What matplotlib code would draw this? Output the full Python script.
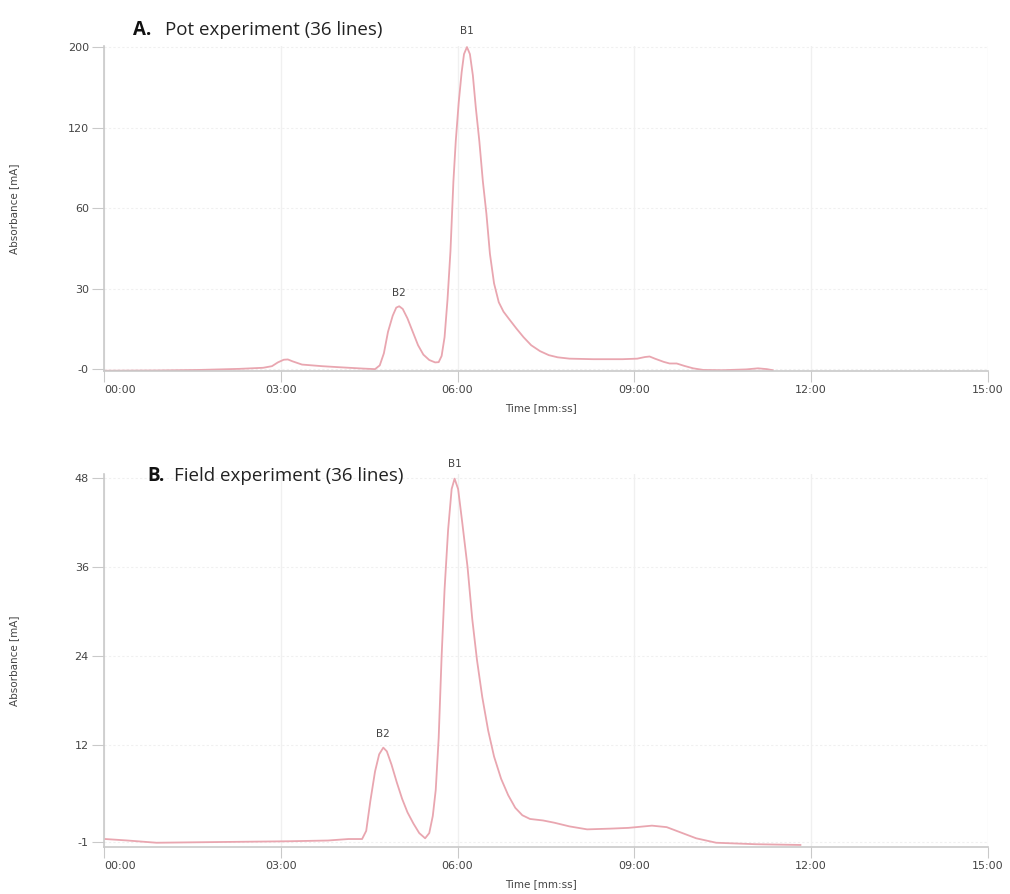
import numpy as np
import matplotlib
matplotlib.use("Agg")
import matplotlib.pyplot as plt
from matplotlib.ticker import FixedLocator, FixedFormatter

# Panel A: pot experiment (time in min, absorbance in mA)
pot_time = [0.02, 0.9, 1.62, 2.3, 2.7, 2.85, 2.95, 3.05, 3.12, 3.2, 3.36, 3.7,
            4.0, 4.4, 4.60, 4.68, 4.75, 4.82, 4.90, 4.96, 5.01, 5.07, 5.15,
            5.24, 5.33, 5.42, 5.52, 5.62, 5.68, 5.73, 5.78, 5.83, 5.88, 5.93,
            5.97, 6.02, 6.07, 6.11, 6.16, 6.21, 6.26, 6.31, 6.37, 6.43, 6.49,
            6.55, 6.62, 6.70, 6.78, 6.88, 7.0, 7.12, 7.25, 7.4, 7.55, 7.7, 7.9,
            8.3, 8.8, 9.05, 9.18, 9.26, 9.35, 9.5, 9.6, 9.72, 9.85, 10.0,
            10.17, 10.5, 10.9, 11.1, 11.25, 11.35]
pot_abs = [-0.5, -0.4, -0.2, 0.2, 0.6, 1.2, 2.6, 3.6, 3.7, 3.0, 1.8, 1.2,
           0.8, 0.3, 0.1, 1.5, 6.0, 14.0, 20.0, 23.0, 23.5, 22.5, 19.0,
           14.0, 9.0, 5.5, 3.5, 2.6, 2.7, 5.0, 12.0, 26.0, 44.0, 80.0,
           110.0, 145.0, 175.0, 193.0, 200.0, 193.0, 172.0, 140.0, 110.0, 80.0, 58.0,
           43.0, 32.0, 25.0, 21.5, 18.6, 15.2, 12.0, 9.0, 6.8, 5.3, 4.5, 4.0,
           3.8, 3.8, 4.0, 4.6, 4.8, 4.0, 2.8, 2.2, 2.2, 1.3, 0.4,
           -0.2, -0.3, 0.0, 0.4, 0.1, -0.3]

# Panel B: field experiment
field_time = [0.02, 0.4, 0.89, 2.0, 3.14, 3.8, 4.15, 4.38, 4.45, 4.52, 4.60,
              4.67, 4.74, 4.80, 4.88, 4.97, 5.06, 5.15, 5.25, 5.35, 5.45, 5.52,
              5.58, 5.63, 5.68, 5.73, 5.78, 5.84, 5.90, 5.95, 6.01, 6.08, 6.17,
              6.25, 6.33, 6.42, 6.52, 6.62, 6.74, 6.86, 6.98, 7.1, 7.23, 7.45,
              7.64, 7.9, 8.2, 8.6, 8.9, 9.3, 9.55, 9.75, 10.05, 10.39, 11.06,
              11.82]
field_abs = [-0.6, -0.8, -1.1, -1.0, -0.9, -0.8, -0.6, -0.6, 0.5, 4.5, 8.5,
             10.8, 11.7, 11.2, 9.4, 7.0, 4.8, 3.0, 1.5, 0.2, -0.5, 0.2,
             2.5, 6.0, 13.0, 24.0, 33.0, 41.0, 46.5, 47.9, 46.5, 42.0, 36.0,
             29.0, 23.5, 18.5, 14.0, 10.5, 7.5, 5.3, 3.6, 2.6, 2.1, 1.9,
             1.6, 1.1, 0.7, 0.8, 0.9, 1.2, 1.0, 0.4, -0.5, -1.1, -1.3,
             -1.4]

x_ticks = [0, 3, 6, 9, 12, 15]
x_labels = ["00:00", "03:00", "06:00", "09:00", "12:00", "15:00"]
pot_yticks = [0, 30, 60, 120, 200]
pot_ylabels = ["-0", "30", "60", "120", "200"]
field_yticks = [-1, 12, 24, 36, 48]
field_ylabels = ["-1", "12", "24", "36", "48"]

line_color = "#e9a6b0"
grid_color = "#f0f0f0"
spine_color = "#c9c9c9"
text_color = "#444444"

# piecewise scale used by the instrument software for panel A
_vals = [-30, 0, 30, 60, 120, 200, 280]
_pos = [-1, 0, 1, 2, 3, 4, 5]


def fwd(v):
    return np.interp(v, _vals, _pos)


def inv(p):
    return np.interp(p, _pos, _vals)


fig = plt.figure(figsize=(10.10, 8.94), dpi=100)
ax1 = fig.add_axes([0.103, 0.585, 0.875, 0.3635])
ax2 = fig.add_axes([0.103, 0.0526, 0.875, 0.417])


def style(ax, yticks, ylabels):
    ax.set_xlim(0, 15)
    ax.xaxis.set_major_locator(FixedLocator(x_ticks))
    ax.xaxis.set_major_formatter(FixedFormatter(x_labels))
    ax.yaxis.set_major_locator(FixedLocator(yticks))
    ax.yaxis.set_major_formatter(FixedFormatter(ylabels))
    for s in ["top", "right"]:
        ax.spines[s].set_visible(False)
    for s in ["left", "bottom"]:
        ax.spines[s].set_color(spine_color)
        ax.spines[s].set_linewidth(1.2)
    ax.grid(True, axis="x", color=grid_color, lw=1.0)
    ax.grid(True, axis="y", color=grid_color, lw=0.8, ls=(0, (2, 2)))
    ax.tick_params(axis="both", colors=spine_color, labelcolor=text_color,
                   labelsize=8, width=0.8)
    ax.tick_params(axis="y", length=9, pad=2)
    ax.tick_params(axis="x", length=8, pad=2)
    ax.get_xticklabels()[0].set_horizontalalignment("left")
    ax.set_xlabel("Time [mm:ss]", fontsize=7.5, color=text_color)
    ax.set_ylabel("Absorbance [mA]", fontsize=7.5, color=text_color)
    ax.yaxis.set_label_coords(-0.096, 0.5)


ax1.set_yscale("function", functions=(fwd, inv))
ax1.plot(pot_time, pot_abs, color=line_color, lw=1.3)
ax1.set_ylim(-0.6, 201)
style(ax1, pot_yticks, pot_ylabels)
ax1.xaxis.set_label_coords(0.494, -0.098)
ax1.annotate("B1", (6.16, 200), xytext=(0, 8), textcoords="offset points",
             ha="center", va="bottom", fontsize=7.5, color=text_color,
             annotation_clip=False)
ax1.annotate("B2", (5.01, 23.5), xytext=(0, 6), textcoords="offset points",
             ha="center", va="bottom", fontsize=7.5, color=text_color)

ax2.plot(field_time, field_abs, color=line_color, lw=1.3)
ax2.set_ylim(-1.67, 48.5)
style(ax2, field_yticks, field_ylabels)
ax2.xaxis.set_label_coords(0.494, -0.087)
ax2.annotate("B1", (5.95, 47.9), xytext=(0, 7), textcoords="offset points",
             ha="center", va="bottom", fontsize=7.5, color=text_color,
             annotation_clip=False)
ax2.annotate("B2", (4.74, 11.7), xytext=(0, 6), textcoords="offset points",
             ha="center", va="bottom", fontsize=7.5, color=text_color)

fig.text(0.132, 0.966, "A.", fontsize=13.5, fontweight="bold", family="Open Sans",
         va="center", color="#111111")
fig.text(0.163, 0.966, "Pot experiment (36 lines)", fontsize=13.5,
         family="Open Sans", va="center", color="#222222")
fig.text(0.146, 0.468, "B.", fontsize=13.5, fontweight="bold", family="Open Sans",
         va="center", color="#111111")
fig.text(0.172, 0.468, "Field experiment (36 lines)", fontsize=13.5,
         family="Open Sans", va="center", color="#222222")

fig.savefig("out.png", dpi=100, facecolor="white")
